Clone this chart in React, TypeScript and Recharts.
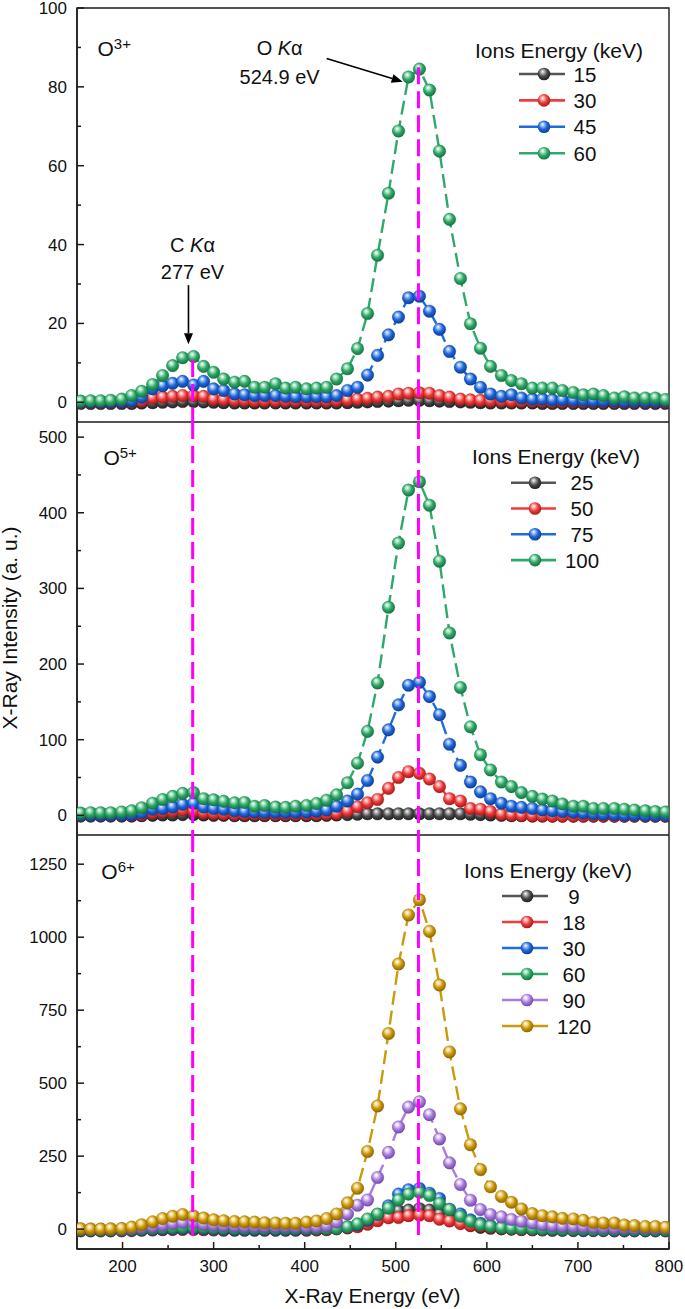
import React from "react";
import { LineChart, Line, XAxis, YAxis, ReferenceLine, ReferenceArea, Legend } from "recharts";

const FONT = '"Liberation Sans", Arial, Helvetica, sans-serif';
const INK = "#111111";
const FRAME = "#1a1a1a";
const MAGENTA = "#ff00ff";

// X-ray energy of each bin (eV)
const energy = [
  154, 165, 176, 187, 199, 210, 221, 233, 244, 255,
  266, 278, 289, 300, 311, 323, 334, 345, 356, 368,
  379, 390, 402, 413, 424, 435, 447, 458, 469, 480,
  492, 503, 514, 526, 537, 548, 559, 571, 582, 593,
  604, 616, 627, 638, 650, 661, 672, 683, 695, 706,
  717, 728, 740, 751, 762, 774, 785, 796,
];

// O3+ : intensity for each ion energy (keV)
const o3_15 = [
  -0.3, -0.3, -0.3, -0.3, -0.3, -0.3, -0.2, -0.1, 0, 0.1,
  0.2, 0.2, 0.1, 0, -0.1, -0.2, -0.2, -0.2, -0.2, -0.2,
  -0.2, -0.2, -0.2, -0.2, -0.2, -0.2, -0.1, 0, 0.1, 0.2,
  0.3, 0.4, 0.5, 0.5, 0.4, 0.3, 0.2, 0.1, 0, -0.1,
  -0.2, -0.2, -0.2, -0.2, -0.2, -0.3, -0.3, -0.3, -0.3, -0.3,
  -0.3, -0.3, -0.3, -0.3, -0.3, -0.3, -0.3, -0.3,
];
const o3_30 = [
  0, 0, 0, 0, 0.1, 0.2, 0.4, 1.1, 1.3, 1.5,
  1.7, 1.7, 1.5, 0.8, 0.7, 0.5, 0.5, 0.4, 0.4, 0.4,
  0.4, 0.4, 0.4, 0.4, 0.4, 0.5, 0.6, 0.8, 1.0, 1.3,
  1.5, 2.1, 2.3, 2.4, 2.3, 1.7, 1.3, 0.8, 0.6, 0.5,
  0.4, 0.4, 0.3, 0.3, 0.3, 0.3, 0.2, 0.2, 0.2, 0.2,
  0.2, 0.2, 0.1, 0.1, 0.1, 0.1, 0.1, 0.1,
];
const o3_45 = [
  0.1, 0.1, 0.1, 0.1, 0.2, 0.4, 1.3, 3.4, 4.2, 4.8,
  5.3, 4.4, 5.3, 3.4, 3.0, 2.1, 1.9, 1.7, 1.7, 1.7,
  1.5, 1.4, 1.4, 1.4, 1.4, 1.7, 3.0, 3.8, 6.9, 11.9,
  17.1, 21.6, 26.5, 26.9, 23.1, 18.5, 12.9, 8.9, 5.9, 3.8,
  2.1, 1.5, 1.9, 1.1, 0.8, 0.8, 0.6, 0.6, 0.5, 0.5,
  0.4, 0.4, 0.4, 0.3, 0.3, 0.3, 0.3, 0.3,
];
const o3_60 = [
  0.3, 0.4, 0.4, 0.5, 0.8, 1.7, 2.8, 4.5, 6.8, 9.3,
  11.3, 11.6, 9.1, 7.6, 5.9, 5.1, 5.3, 3.8, 3.8, 4.7,
  3.6, 3.8, 3.4, 3.6, 3.8, 5.9, 8.5, 13.6, 22.5, 37.3,
  53.0, 68.8, 82.5, 84.5, 79.2, 63.7, 46.4, 31.4, 19.9, 13.7,
  9.1, 6.8, 5.5, 4.7, 3.6, 3.6, 3.6, 3.0, 2.5, 1.9,
  2.1, 1.7, 1.1, 1.4, 1.1, 1.1, 1.1, 0.7,
];

// O5+
const o5_25 = [
  -1, -1, -1, -1, -1, -1, -0.5, 0, 0.5, 0.5,
  1, 1, 0.5, 0, 0, -0.5, -0.5, -0.5, -0.5, -0.5,
  -0.5, -0.5, -0.5, -0.5, 0, 0.5, 1, 1.5, 2, 2,
  2, 2, 2, 2, 2, 2, 2, 2, 1.5, 1,
  0.5, 0, -0.5, -0.5, -1, -1, -1, -1, -1, -1,
  -1, -1, -1, -1, -1, -1, -1, -1,
];
const o5_50 = [
  0, 0, 0, 0, 0.3, 0.5, 1, 3.5, 4.8, 5.7,
  7, 5.7, 3.5, 2.5, 2, 1.5, 1.5, 1.5, 1.5, 1.2,
  1.2, 1.2, 1.5, 1.5, 2, 2.5, 5.7, 11.4, 16.7, 21,
  35.6, 50, 57.7, 55.5, 48, 38, 22, 19, 9, 8,
  5, 1.5, 0.5, 0, -0.5, -0.5, -1, -1, -1, -1,
  -1, -1, -1, -1, -1, -1, -1, -1,
];
const o5_75 = [
  0.5, 0.5, 0.5, 0.5, 0.8, 1.5, 3.5, 8, 9, 11,
  14.5, 16, 11, 9, 8, 6, 5, 4.5, 4, 4,
  4, 4, 4.5, 5.5, 7, 12, 19, 28, 46, 77,
  113, 146, 172, 176, 157, 133, 94, 66, 44, 31,
  22, 16, 12, 10.5, 9, 7, 6, 5, 4, 3,
  2, 1.5, 1, 0.5, 0.5, 0, 0, 0,
];
const o5_100 = [
  3, 3.5, 3.5, 3.5, 4.5, 6, 10, 16, 21, 25,
  29, 30, 22, 20.5, 18.5, 16.5, 17, 12, 13, 11,
  10.5, 12, 13, 15.5, 20, 27, 43, 69, 111, 175,
  275, 360, 430, 441, 410, 336, 241, 169, 117, 80,
  60, 44, 38, 30, 25, 21.5, 19, 15, 12, 12,
  9, 9, 9, 8, 7, 6, 5, 4.5,
];

// O6+
const o6_9 = [
  -3, -3, -3, -3, -3, -3, -2, -1, 0, 1,
  1, 1, 0, -1, -2, -2, -2, -2, -2, -2,
  -2, -2, -2, -1, 0, 3, 6, 12, 25, 40,
  57, 63, 65, 70, 65, 51, 41, 25, 12, 6,
  3, 1, 0, -1, -2, -2, -3, -3, -3, -3,
  -3, -3, -3, -3, -3, -3, -3, -3,
];
const o6_18 = [
  -6, -6, -6, -6, -6, -5, -4, -3, -2, -1,
  -1, -1, -2, -3, -4, -4, -4, -4, -4, -4,
  -4, -4, -4, -3, -2, 1, 4, 8, 17, 29,
  39, 40, 46, 48, 46, 34, 28, 19, 13, 11,
  6, 3, 1, -1, -2, -3, -4, -4, -5, -5,
  -5, -5, -6, -6, -6, -6, -6, -6,
];
const o6_30 = [
  -5, -5, -5, -5, -4, -3, -2, -1, 0, 1,
  2, 2, 1, 0, -1, -2, -2, -2, -2, -2,
  -2, -2, -1, 0, 1, 3, 7, 15, 30, 50,
  80, 120, 135, 139, 123, 105, 68, 52, 32, 20,
  12, 7, 4, 2, 0, -1, -2, -3, -3, -4,
  -4, -4, -5, -5, -5, -5, -5, -5,
];
const o6_60 = [
  -3, -3, -3, -3, -2, -1, 0, 2, 4, 5,
  6, 6, 5, 4, 3, 2, 2, 2, 2, 2,
  2, 2, 2, 2, 2, 3, 8, 18, 35, 52,
  72, 100, 120, 126, 115, 88, 67, 44, 27, 15,
  10, 5, 3, 2, 1, 0, 0, -1, -1, -1,
  -2, -2, -2, -2, -3, -3, -3, -3,
];
const o6_90 = [
  0, 0, 0, 0, 1, 3, 6, 9, 14, 19,
  23, 23, 17, 14, 12, 11, 10, 10, 10, 10,
  10, 9, 8, 8, 12, 24, 52, 82, 100, 177,
  263, 350, 418, 436, 392, 309, 227, 153, 99, 67,
  50, 42, 33, 27, 21, 15, 12, 10, 9, 8,
  7, 6, 5, 5, 4, 4, 3, 3,
];
const o6_120 = [
  1, 0, 0, 1, 2, 7, 15, 25, 36, 44,
  50, 45, 38, 32, 29, 26, 25, 24, 22, 21,
  20, 20, 24, 28, 36, 52, 90, 140, 266, 422,
  670, 908, 1076, 1128, 1020, 836, 607, 412, 289, 204,
  145, 112, 92, 69, 53, 46, 42, 37, 35, 30,
  23, 21, 21, 14, 12, 9, 9, 6,
];

// characteristic lines (eV)
const cKa = 277;
const oKa = 524.9;

const xMajor = [200, 300, 400, 500, 600, 700, 800];
const xMinor = [250, 350, 450, 550, 650, 750];

const palette: Record<string, { line: string; base: string; light: string; dark: string }> = {
  black: { line: "#555555", base: "#4a4a4a", light: "#b8b8b8", dark: "#1a1a1a" },
  red: { line: "#ee3d3d", base: "#ec3b3b", light: "#ffb4b4", dark: "#9e1414" },
  blue: { line: "#1f6bdb", base: "#1e66d8", light: "#a2c4ff", dark: "#0a388c" },
  green: { line: "#2fa96a", base: "#2ea866", light: "#b2e8ca", dark: "#146a3e" },
  purple: { line: "#a97ddd", base: "#a87cdc", light: "#e8dcf8", dark: "#6a43a2" },
  gold: { line: "#c99a0c", base: "#cc980a", light: "#f6e3a0", dark: "#845f00" },
};

type Series = { key: string; label: string; tone: string; values: number[] };

const o3Series: Series[] = [
  { key: "s0", label: "15", tone: "black", values: o3_15 },
  { key: "s1", label: "30", tone: "red", values: o3_30 },
  { key: "s2", label: "45", tone: "blue", values: o3_45 },
  { key: "s3", label: "60", tone: "green", values: o3_60 },
];
const o5Series: Series[] = [
  { key: "s0", label: "25", tone: "black", values: o5_25 },
  { key: "s1", label: "50", tone: "red", values: o5_50 },
  { key: "s2", label: "75", tone: "blue", values: o5_75 },
  { key: "s3", label: "100", tone: "green", values: o5_100 },
];
const o6Series: Series[] = [
  { key: "s0", label: "9", tone: "black", values: o6_9 },
  { key: "s1", label: "18", tone: "red", values: o6_18 },
  { key: "s2", label: "30", tone: "blue", values: o6_30 },
  { key: "s3", label: "60", tone: "green", values: o6_60 },
  { key: "s4", label: "90", tone: "purple", values: o6_90 },
  { key: "s5", label: "120", tone: "gold", values: o6_120 },
];

const panels = [
  {
    id: "p1", top: 0, height: 422, marginTop: 8, xHeight: 0,
    domain: [-5, 100], yMajor: [0, 20, 40, 60, 80, 100], yMinor: [10, 30, 50, 70, 90],
    ion: "3+", ionPos: [97.5, 55.7], series: o3Series,
    legend: { titleX: 559, titleY: 57.5, row0: 74, step: 26.4, lineX: [519, 565], markX: 544, textX: 585 },
    guideC: [10.7, -5], guideO: [85, -5], arrows: true,
  },
  {
    id: "p2", top: 422, height: 413, marginTop: 0, xHeight: 0,
    domain: [-26, 520], yMajor: [0, 100, 200, 300, 400, 500], yMinor: [50, 150, 250, 350, 450],
    ion: "5+", ionPos: [103.4, 465], series: o5Series,
    legend: { titleX: 556, titleY: 464.2, row0: 482.7, step: 25.8, lineX: [511, 556], markX: 535, textX: 582 },
    guideC: [520, -26], guideO: [520, -26], arrows: false,
  },
  {
    id: "p3", top: 835, height: 474, marginTop: 0, xHeight: 60,
    domain: [-68, 1350], yMajor: [0, 250, 500, 750, 1000, 1250], yMinor: [125, 375, 625, 875, 1125],
    ion: "6+", ionPos: [101.3, 879.3], series: o6Series,
    legend: { titleX: 548, titleY: 877.5, row0: 896, step: 26, lineX: [502, 548], markX: 527, textX: 574 },
    guideC: [1350, -20], guideO: [1350, -20], arrows: false,
  },
];

type Panel = (typeof panels)[number];

const mark = (x1: number, y1: number, x2: number, y2: number) => (
  <path d={`M${x1},${y1}L${x2},${y2}`} stroke={FRAME} strokeWidth={1.5} fill="none" />
);

const makeLeftTick = (majors: number[]) => (p: any) => {
  const major = majors.includes(p.payload.value);
  return (
    <g key={`l-${p.payload.value}`}>
      {mark(p.x, p.y, p.x + (major ? 7 : 4), p.y)}
      {major && (
        <text x={p.x - 10} y={p.y} dy="0.35em" textAnchor="end" fontSize={17} fontFamily={FONT} fill={INK}>
          {p.payload.value}
        </text>
      )}
    </g>
  );
};

const makeRightTick = (majors: number[]) => (p: any) => {
  const major = majors.includes(p.payload.value);
  return <g key={`r-${p.payload.value}`}>{mark(p.x, p.y, p.x - (major ? 7 : 4), p.y)}</g>;
};

const topTick = (p: any) => {
  const major = xMajor.includes(p.payload.value);
  return <g key={`t-${p.payload.value}`}>{mark(p.x, p.y, p.x, p.y + (major ? 7 : 4))}</g>;
};

const bottomTick = (p: any) => {
  const major = xMajor.includes(p.payload.value);
  return (
    <g key={`b-${p.payload.value}`}>
      {mark(p.x, p.y, p.x, p.y - (major ? 7 : 4))}
      {major && (
        <text x={p.x} y={p.y + 23} textAnchor="middle" fontSize={17} fontFamily={FONT} fill={INK}>
          {p.payload.value}
        </text>
      )}
    </g>
  );
};

const sphereDot = (tone: string) => (p: any) => (
  <circle
    key={`${tone}-${p.index}`}
    cx={p.cx}
    cy={p.cy}
    r={6.3}
    fill={`url(#sph-${tone})`}
    stroke={palette[tone].dark}
    strokeWidth={0.5}
    strokeOpacity={0.6}
  />
);

// arrow with a two-line caption, drawn from the segment end points
const arrowShape = (element: string, value: string, dx: number, dys: [number, number]) => (p: any) => {
  const { x1, y1, x2, y2 } = p;
  const a = Math.atan2(y2 - y1, x2 - x1);
  const L = 11;
  const W = 4.5;
  const bx = x2 - L * Math.cos(a);
  const by = y2 - L * Math.sin(a);
  const pts = `${x2},${y2} ${bx + W * Math.sin(a)},${by - W * Math.cos(a)} ${bx - W * Math.sin(a)},${by + W * Math.cos(a)}`;
  return (
    <g>
      <path d={`M${x1},${y1}L${bx},${by}`} stroke="#000" strokeWidth={1.6} fill="none" />
      <polygon points={pts} fill="#000" />
      <text x={x1 + dx} y={y1 + dys[0]} textAnchor="middle" fontSize={20} fontFamily={FONT} fill={INK}>
        {element}{" "}<tspan fontStyle="italic">K</tspan>α
      </text>
      <text x={x1 + dx} y={y1 + dys[1]} textAnchor="middle" fontSize={20} fontFamily={FONT} fill={INK}>
        {value}
      </text>
    </g>
  );
};

function Overlay({ cfg }: { cfg: Panel }) {
  const T = cfg.top;
  const lg = cfg.legend;
  return (
    <svg
      width={685}
      height={cfg.height}
      style={{ position: "absolute", left: 0, top: 0, overflow: "visible", pointerEvents: "none" }}
      fontFamily={FONT}
    >
      <text x={cfg.ionPos[0]} y={cfg.ionPos[1] - T} fontSize={21} fill={INK}>
        O<tspan fontSize={15} dy={-7}>{cfg.ion}</tspan>
      </text>
      <text x={lg.titleX} y={lg.titleY - T} fontSize={21} textAnchor="middle" fill={INK}>
        Ions Energy (keV)
      </text>
      {cfg.series.map((s, i) => {
        const cy = lg.row0 + i * lg.step - T;
        const c = palette[s.tone];
        return (
          <g key={s.key}>
            <path d={`M${lg.lineX[0]},${cy}L${lg.lineX[1]},${cy}`} stroke={c.line} strokeWidth={2.6} fill="none" />
            <circle cx={lg.markX} cy={cy} r={6.3} fill={`url(#sph-${s.tone})`} />
            <text x={lg.textX} y={cy + 7.5} fontSize={20.5} textAnchor="middle" fill={INK}>
              {s.label}
            </text>
          </g>
        );
      })}
      {cfg.id === "p2" && (
        <text x={17} y={628 - T} fontSize={21} textAnchor="middle" fill={INK} transform={`rotate(-90 17 ${628 - T})`}>
          X-Ray Intensity (a. u.)
        </text>
      )}
      {cfg.id === "p3" && (
        <text x={372.5} y={1303 - T} fontSize={21} textAnchor="middle" fill={INK}>
          X-Ray Energy (eV)
        </text>
      )}
    </svg>
  );
}

function PanelChart({ cfg }: { cfg: Panel }) {
  const rows = energy.map((e, i) => {
    const r: Record<string, number> = { energy: e };
    cfg.series.forEach((s) => {
      r[s.key] = s.values[i];
    });
    return r;
  });
  const yTicks = [...cfg.yMajor, ...cfg.yMinor];
  const xTicks = [...xMajor, ...xMinor];
  const frame = { stroke: FRAME, strokeWidth: 1.5 };
  return (
    <div style={{ position: "absolute", left: 0, top: cfg.top, width: 685, height: cfg.height }}>
      <LineChart
        width={685}
        height={cfg.height}
        data={rows}
        margin={{ top: cfg.marginTop, right: 16, bottom: 0, left: 0 }}
      >
        <XAxis
          dataKey="energy"
          type="number"
          domain={[150, 800]}
          allowDataOverflow
          ticks={xTicks}
          interval={0}
          height={cfg.xHeight}
          stroke={FRAME}
          tickSize={0}
          tickMargin={0}
          tickLine={false}
          axisLine={frame}
          tick={cfg.xHeight > 0 ? bottomTick : false}
        />
        <XAxis
          xAxisId="top"
          orientation="top"
          type="number"
          domain={[150, 800]}
          allowDataOverflow
          ticks={xTicks}
          interval={0}
          height={0}
          stroke={FRAME}
          tickSize={0}
          tickMargin={0}
          tickLine={false}
          axisLine={frame}
          tick={topTick}
        />
        <YAxis
          type="number"
          domain={cfg.domain}
          allowDataOverflow
          ticks={yTicks}
          interval={0}
          width={77}
          stroke={FRAME}
          tickSize={0}
          tickMargin={0}
          tickLine={false}
          axisLine={frame}
          tick={makeLeftTick(cfg.yMajor)}
        />
        <YAxis
          yAxisId="right"
          orientation="right"
          type="number"
          domain={cfg.domain}
          allowDataOverflow
          ticks={yTicks}
          interval={0}
          width={0}
          stroke={FRAME}
          tickSize={0}
          tickMargin={0}
          tickLine={false}
          axisLine={frame}
          tick={makeRightTick(cfg.yMajor)}
        />
        <ReferenceArea
          x1={150}
          x2={800}
          y1={cfg.domain[0]}
          y2={cfg.domain[1]}
          fill="none"
          fillOpacity={0}
          stroke={FRAME}
          strokeWidth={1.4}
          ifOverflow="visible"
        />
        {cfg.series.map((s) => (
          <Line
            key={s.key}
            type="linear"
            dataKey={s.key}
            stroke={palette[s.tone].line}
            strokeWidth={2.4}
            strokeDasharray="14 6"
            dot={sphereDot(s.tone)}
            activeDot={false}
            isAnimationActive={false}
          />
        ))}
        <ReferenceLine
          segment={[{ x: cKa, y: cfg.guideC[0] }, { x: cKa, y: cfg.guideC[1] }]}
          stroke={MAGENTA}
          strokeWidth={3}
          strokeDasharray="17 7"
          zIndex={1100}
        />
        <ReferenceLine
          segment={[{ x: oKa, y: cfg.guideO[0] }, { x: oKa, y: cfg.guideO[1] }]}
          stroke={MAGENTA}
          strokeWidth={3}
          strokeDasharray="17 7"
          zIndex={1100}
        />
        {cfg.arrows && (
          <ReferenceLine
            segment={[{ x: 272.4, y: 29.7 }, { x: 272.4, y: 14.7 }]}
            shape={arrowShape("C", `${cKa} eV`, 4, [-32.8, -6.1])}
            zIndex={1100}
          />
        )}
        {cfg.arrows && (
          <ReferenceLine
            segment={[{ x: 424.1, y: 87.2 }, { x: 507.6, y: 81.3 }]}
            shape={arrowShape("O", `${oKa} eV`, -47, [-3.4, 25.6])}
            zIndex={1100}
          />
        )}
        <Legend
          layout="vertical"
          align="center"
          verticalAlign="middle"
          wrapperStyle={{ left: 0, top: 0, width: 685, height: cfg.height }}
          content={() => <Overlay cfg={cfg} />}
        />
      </LineChart>
    </div>
  );
}

export default function App() {
  return (
    <div
      style={{
        position: "absolute",
        left: 0,
        top: 0,
        width: 685,
        height: 1309,
        background: "#fff",
        fontFamily: FONT,
      }}
    >
      <svg width={0} height={0} style={{ position: "absolute" }}>
        <defs>
          {Object.entries(palette).map(([tone, c]) => (
            <radialGradient key={tone} id={`sph-${tone}`} cx="0.45" cy="0.42" r="0.62" fx="0.38" fy="0.3">
              <stop offset="0" stopColor="#ffffff" />
              <stop offset="0.2" stopColor={c.light} />
              <stop offset="0.55" stopColor={c.base} />
              <stop offset="1" stopColor={c.dark} />
            </radialGradient>
          ))}
        </defs>
      </svg>
      {panels.map((cfg) => (
        <PanelChart key={cfg.id} cfg={cfg} />
      ))}
    </div>
  );
}
